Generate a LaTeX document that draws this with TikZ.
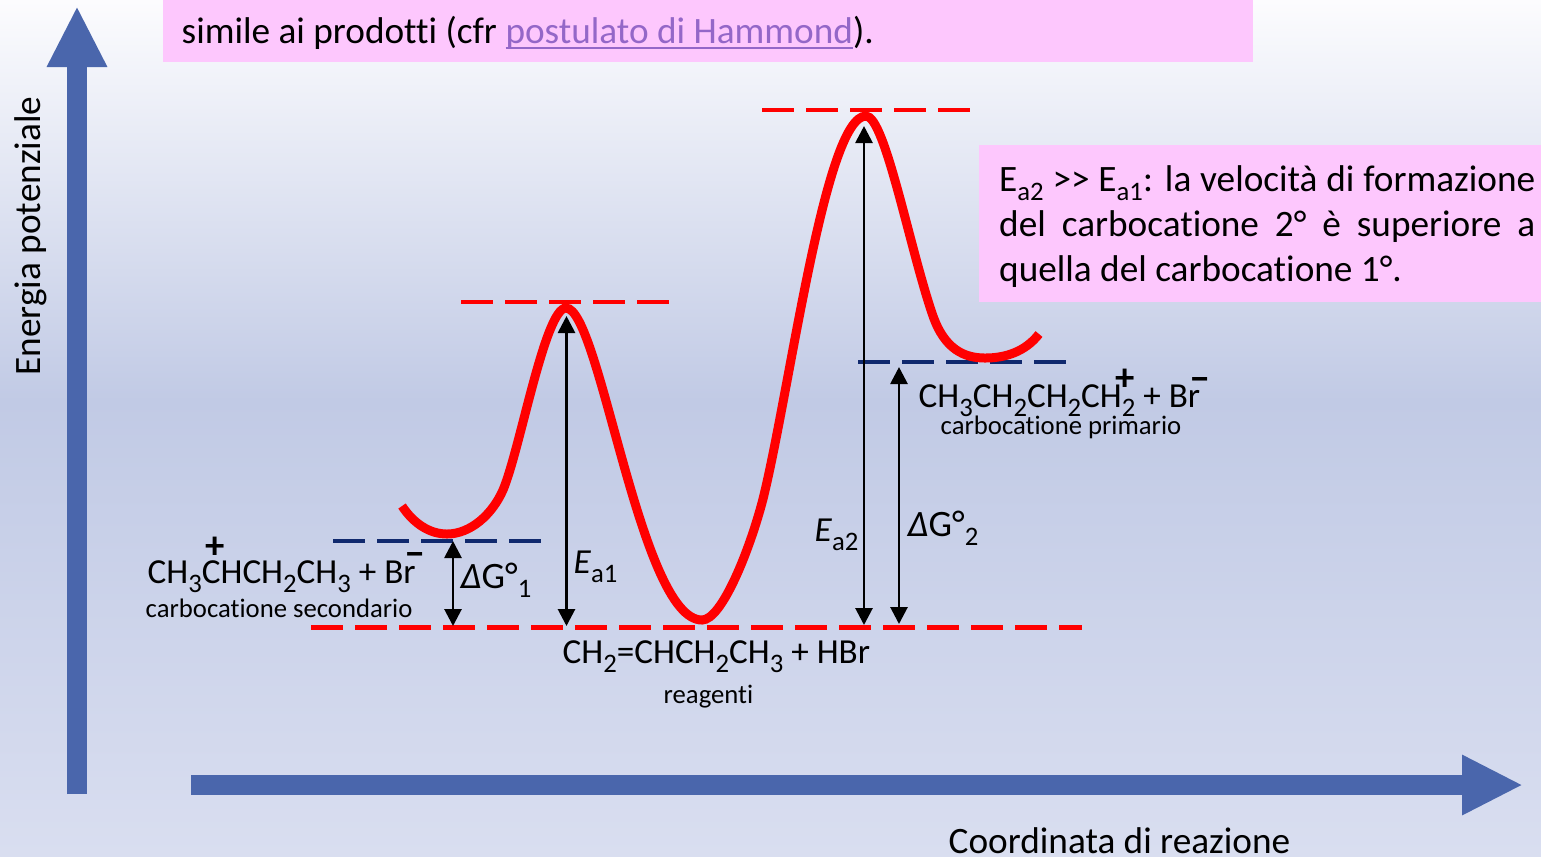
\documentclass[tikz,border=0pt]{standalone}
\usepackage{fontspec}
\setmainfont[Ligatures=NoCommon]{Carlito}
\usepackage{xcolor}
\usetikzlibrary{arrows.meta, positioning}
\definecolor{bgtop}{HTML}{FCFCFE}
\definecolor{bgmid}{HTML}{C1CAE5}
\definecolor{bgend}{HTML}{D9DEF0}
\definecolor{notepink}{HTML}{FDC7FD}
\definecolor{axisblue}{HTML}{4A66AC}
\definecolor{leveldark}{HTML}{10296E}
\definecolor{linkviolet}{HTML}{9467C8}
\newcommand{\bigfont}{\fontsize{10.6pt}{.45cm}\selectfont}
\newcommand{\midfont}{\fontsize{10pt}{12pt}\selectfont}
\newcommand{\smallfont}{\fontsize{7.6pt}{9pt}\selectfont}
\newcommand{\lowidx}[1]{\raisebox{-.09cm}{\fontsize{7.6pt}{9pt}\selectfont #1}}
\newlength{\linkwd}
\newcommand{\linktext}[1]{\settowidth{\linkwd}{#1}{\color{linkviolet}\rlap{\rule[-.055cm]{\linkwd}{.02cm}}#1}}
\tikzset{
  notebox/.style={fill=notepink,inner sep=0,anchor=north west},
  axisarrow/.style={draw=axisblue,line width=.2cm,-{Triangle[length=.61cm,width=.56cm]}},
  redlevel/.style={draw=red,line width=.045cm,dash pattern=on .32cm off .12cm},
  darklevel/.style={draw=leveldark,line width=.045cm,dash pattern=on .32cm off .12cm},
  gap/.style={draw=black,line width=.028cm,{Triangle[length=.17cm,width=.17cm]}-{Triangle[length=.17cm,width=.17cm]}},
  barrier/.style={draw=red,line width=.09cm},
  formula/.style={anchor=base west,inner sep=0,font=\midfont},
  bigformula/.style={anchor=base west,inner sep=0,font=\bigfont},
  caption/.style={anchor=base west,inner sep=0,font=\smallfont},
  charge/.style={inner sep=0,font=\bfseries\fontsize{11pt}{11pt}\selectfont}
}
\begin{document}
\begin{tikzpicture}
\useasboundingbox (0,0) rectangle (15.41,-8.56);
\shade[top color=bgtop,bottom color=bgmid] (0,0) rectangle (15.41,-4.01);
\shade[top color=bgmid,bottom color=bgend] (0,-4) rectangle (15.41,-8.56);
\coordinate (yfoot) at (.77,-7.94);
\coordinate (yhead) at (.77,-.06);
\coordinate (xfoot) at (1.91,-7.85);
\coordinate (xhead) at (15.23,-7.85);
\draw[axisarrow] (yfoot) -- (yhead);
\draw[axisarrow] (xfoot) -- (xhead);
\node[notebox,minimum width=10.9cm,minimum height=.62cm,align=left] (hammond) at (1.62,.01) {\bigfont\hspace{.19cm}\raisebox{-.02cm}[\height][\depth]{\parbox{10.71cm}{simile ai prodotti (cfr \linktext{postulato di Hammond}).}}};
\node[notebox,minimum width=5.62cm,minimum height=1.57cm] (rates) at (9.78,-1.44) {\bigfont\hspace{.15cm}\raisebox{-.03cm}[\height][\depth]{\parbox{5.36cm}{E\lowidx{a2} >{}> E\lowidx{a1}: la velocità di formazione\linebreak del carbocatione 2° è superiore a\linebreak quella del carbocatione 1°.}}\hspace{.11cm}};
\node[rotate=90,inner sep=0,font=\bigfont] (yname) at (.31,-2.36) {Energia potenziale};
\node[bigformula] (xname) at (9.48,-8.53) {Coordinata di reazione};
\coordinate (ts1a) at (4.61,-3.02);
\coordinate (ts1b) at (6.69,-3.02);
\coordinate (ts2a) at (7.62,-1.10);
\coordinate (ts2b) at (9.70,-1.10);
\coordinate (basea) at (3.11,-6.275);
\coordinate (baseb) at (10.82,-6.275);
\coordinate (sec1) at (3.33,-5.41);
\coordinate (sec2) at (5.41,-5.41);
\coordinate (prim1) at (8.58,-3.62);
\coordinate (prim2) at (10.66,-3.62);
\draw[darklevel] (sec1) -- (sec2);
\draw[darklevel] (prim1) -- (prim2);
\draw[redlevel] (ts1a) -- (ts1b);
\draw[redlevel] (ts2a) -- (ts2b);
\draw[redlevel] (basea) -- (baseb);
\draw[barrier] (4.02,-5.06) .. controls (4.14,-5.24) and (4.30,-5.34) .. (4.47,-5.34)
  .. controls (4.70,-5.34) and (4.92,-5.15) .. (5.03,-4.90)
  .. controls (5.20,-4.50) and (5.45,-3.08) .. (5.66,-3.08)
  .. controls (6.00,-3.08) and (6.40,-6.20) .. (7.02,-6.20)
  .. controls (7.22,-6.20) and (7.50,-5.49) .. (7.63,-4.99)
  .. controls (7.90,-3.90) and (8.25,-1.16) .. (8.66,-1.16)
  .. controls (8.85,-1.16) and (9.10,-2.50) .. (9.33,-3.16)
  .. controls (9.45,-3.50) and (9.65,-3.58) .. (9.85,-3.58)
  .. controls (10.05,-3.58) and (10.25,-3.52) .. (10.39,-3.34);
\coordinate (dg1top) at (4.53,-5.41);
\coordinate (dg1low) at (4.53,-6.26);
\coordinate (ea1top) at (5.665,-3.16);
\coordinate (ea1low) at (5.665,-6.26);
\coordinate (ea2top) at (8.64,-1.26);
\coordinate (ea2low) at (8.64,-6.25);
\coordinate (dg2top) at (8.99,-3.67);
\coordinate (dg2low) at (8.99,-6.24);
\draw[gap] (dg1top) -- (dg1low);
\draw[gap] (ea1top) -- (ea1low);
\draw[gap] (ea2top) -- (ea2low);
\draw[gap] (dg2top) -- (dg2low);
\node[formula] (secform) at (1.47,-5.83) {CH\lowidx{3}CHCH\lowidx{2}CH\lowidx{3} + Br};
\node[caption] (secname) at (1.45,-6.17) {carbocatione secondario};
\node[charge] (secplus) at (2.15,-5.48) {+};
\node[charge] (secminus) at (4.15,-5.59) {−};
\node[bigformula] (dg1name) at (4.60,-5.88) {\textit{Δ}G°\lowidx{1}};
\node[formula] (ea1name) at (5.73,-5.73) {\textit{E}\lowidx{a1}};
\node[formula] (reactform) at (5.62,-6.63) {CH\lowidx{2}=CHCH\lowidx{2}CH\lowidx{3} + HBr};
\node[caption] (reactname) at (6.63,-7.03) {reagenti};
\node[formula] (ea2name) at (8.14,-5.41) {\textit{E}\lowidx{a2}};
\node[bigformula] (dg2name) at (9.07,-5.36) {\textit{Δ}G°\lowidx{2}};
\node[formula] (primform) at (9.18,-4.07) {CH\lowidx{3}CH\lowidx{2}CH\lowidx{2}CH\lowidx{2} + Br};
\node[caption] (primname) at (9.40,-4.34) {carbocatione primario};
\node[charge] (primplus) at (11.25,-3.80) {+};
\node[charge] (primminus) at (12.00,-3.84) {−};
\end{tikzpicture}
\end{document}
